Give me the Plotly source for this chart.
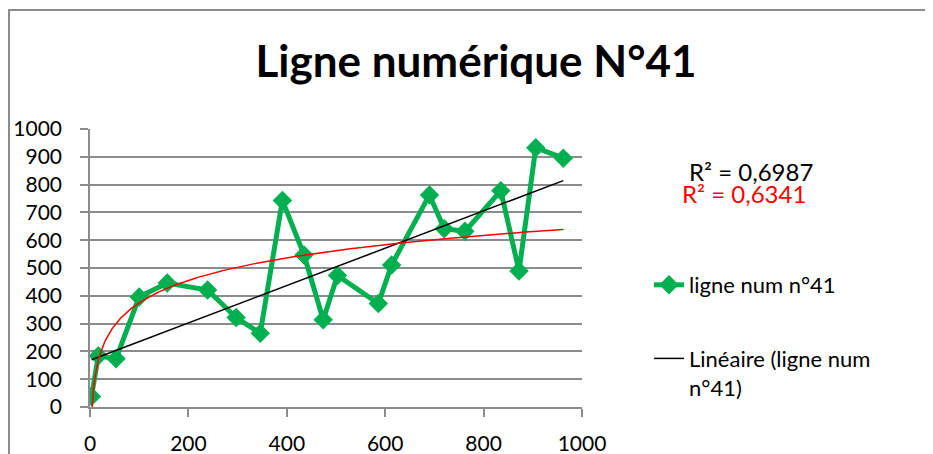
import numpy as np
import plotly.graph_objects as go

# ---- data ----
x_vals = [3, 17, 53, 100, 157, 239, 297, 346, 391, 435, 474, 503, 586, 613, 690, 720, 762, 835, 872, 906, 962]
y_vals = [38, 184, 174, 396, 446, 421, 322, 265, 743, 547, 314, 473, 372, 511, 763, 641, 632, 778, 489, 933, 895]
series_name = "ligne num n°41"
linear_name = "Linéaire (ligne num<br>n°41)"
r2_linear_text = "R² = 0,6987"
r2_log_text = "R² = 0,6341"
title_text = "Ligne numérique N°41"
y_ticks = [0, 100, 200, 300, 400, 500, 600, 700, 800, 900, 1000]
x_ticks = [0, 200, 400, 600, 800, 1000]

# trend-line coefficients as drawn in the reference (Excel trend lines)
linear_slope = 0.672
linear_intercept = 168.0
log_coef = 116.7
log_const = -162.7

xa = np.array(x_vals, dtype=float)
lin_x = np.array([xa.min(), xa.max()])
lin_y = linear_slope * lin_x + linear_intercept
log_x = np.linspace(xa.min(), xa.max(), 400)
log_y = log_coef * np.log(log_x) + log_const

FONT = "Lato"
GREEN = "#00B050"
GRID = "#8C8C8C"

# the page body has an 8px margin: the figure is drawn 8px right/down
W, H = 925, 446
ML, MT, PW, PH = 82, 121, 492, 278
MR = W - ML - PW
MB = H - MT - PH

def px(xs):  # screen x -> paper x
    return (xs - 8 - ML) / PW

def py(ys):  # screen y -> paper y
    return (MT + PH - (ys - 8)) / PH

fig = go.Figure()
fig.add_trace(go.Scatter(
    x=x_vals, y=y_vals, mode="lines+markers", name=series_name,
    line=dict(color=GREEN, width=5),
    marker=dict(symbol="diamond", size=15, color=GREEN),
    legendgroup="a",
))
fig.add_trace(go.Scatter(
    x=lin_x, y=lin_y, mode="lines", name=linear_name,
    line=dict(color="black", width=1.5), legendgroup="b",
))
fig.add_trace(go.Scatter(
    x=log_x, y=log_y, mode="lines", name="Logarithmique",
    line=dict(color="red", width=1.5), showlegend=False,
))

fig.update_layout(
    width=W, height=H, autosize=False,
    margin=dict(l=ML, r=MR, t=MT, b=MB, pad=0),
    paper_bgcolor="white", plot_bgcolor="white",
    font=dict(family=FONT, size=21, color="black"),
    title=dict(text="<b>" + title_text + "</b>", x=(476 - 8) / W, xref="container", xanchor="center",
               y=1 - (62 - 8) / H, yref="container", yanchor="middle",
               font=dict(family=FONT, size=44, color="black")),
    xaxis=dict(range=[0, 1000], tickvals=x_ticks, showgrid=False, zeroline=False,
               showline=True, linecolor=GRID, linewidth=1.5, automargin=False,
               ticks="outside", ticklen=8, tickcolor=GRID, tickwidth=1.5,
               ticklabelstandoff=9, tickfont=dict(family=FONT, size=21, color="black")),
    yaxis=dict(range=[0, 1000], tickvals=y_ticks, showgrid=True, gridcolor=GRID, gridwidth=1.5,
               zeroline=False, showline=True, linecolor=GRID, linewidth=1.5, automargin=False,
               ticks="outside", ticklen=8, tickcolor=GRID, tickwidth=1.5,
               ticklabelstandoff=14, tickfont=dict(family=FONT, size=21, color="black")),
    legend=dict(x=px(649), xanchor="left", y=py(264), yanchor="top",
                font=dict(family=FONT, size=22, color="black"),
                tracegroupgap=42, valign="top", bgcolor="rgba(0,0,0,0)"),
    showlegend=True,
)

fig.add_annotation(text=r2_linear_text, xref="paper", yref="paper",
                   x=px(751), y=py(171.7), xanchor="center", yanchor="middle", showarrow=False,
                   font=dict(family=FONT, size=24, color="black"))
fig.add_annotation(text=r2_log_text, xref="paper", yref="paper",
                   x=px(744), y=py(193.3), xanchor="center", yanchor="middle", showarrow=False,
                   font=dict(family=FONT, size=24, color="red"))

# chart-area border (left and top edges visible in the reference)
fig.add_shape(type="rect", xref="paper", yref="paper",
              x0=px(9), x1=px(960), y0=py(10), y1=py(480),
              line=dict(color=GRID, width=2), fillcolor="rgba(0,0,0,0)", layer="below")

fig.write_html("out.html")
